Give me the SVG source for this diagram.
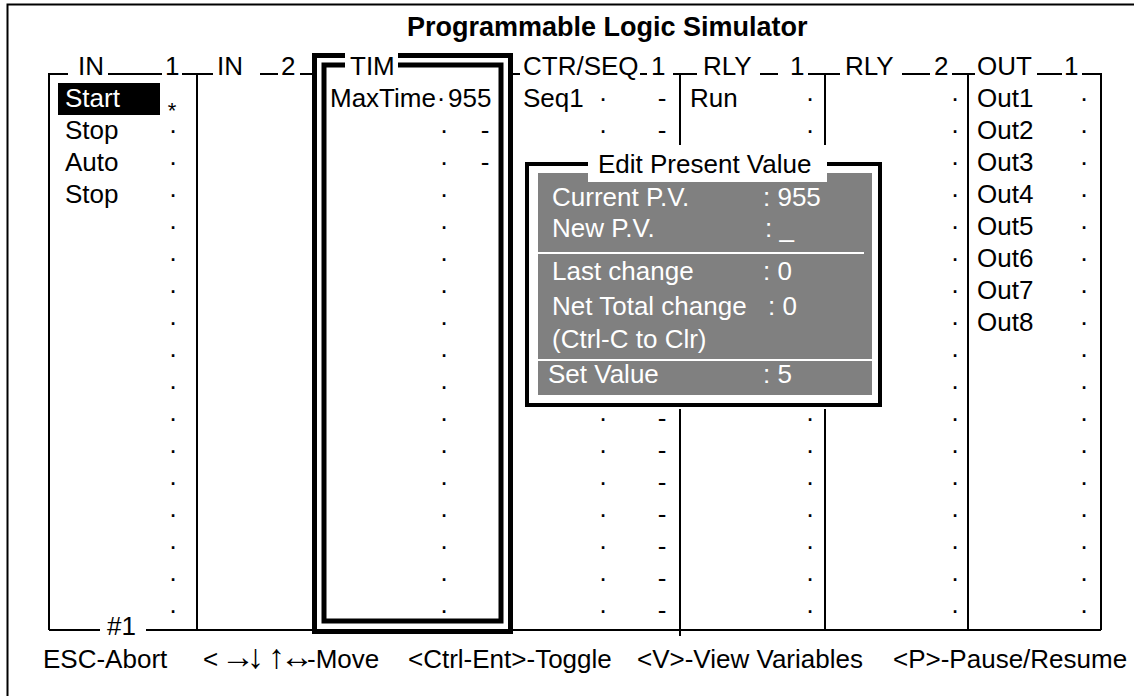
<svg xmlns="http://www.w3.org/2000/svg" width="1134" height="696" viewBox="0 0 1134 696">
  <style>
    .t{font-family:"Liberation Sans",Arial,sans-serif;font-size:26px;fill:#000}
    .b{font-weight:bold}
    .w{fill:#fff}
    .d{text-anchor:middle}
    .ar{font-size:34px}
    .ln{stroke:#000;stroke-width:2;fill:none}
    .thk{stroke:#000;stroke-width:5;fill:none}
    .sep{stroke:#fff;stroke-width:2}
  </style>

  <rect width="1134" height="696" fill="#fff"/>
  <!-- screen frame -->
  <rect id="frame" x="7.5" y="4.5" width="1140" height="700" class="ln"/>

  <g id="title">
    <text class="t b" x="407" y="36" style="font-size:27px">Programmable Logic Simulator</text>
  </g>

  <!-- grid lines: header rules, column separators, bottom rule -->
  <g id="connectors" class="ln">
    <path d="M49,630 V74 H68 M108,74 H162 M182,74 H213 M197,74 V630"/>
    <path d="M260,74 H278 M300,74 H313"/>
    <path d="M513,74 H520 M640,74 H647 M673,74 H697 M680,74 V145 M680,409 V636"/>
    <path d="M760,74 H778 M808,74 H840 M825,74 V145 M825,409 V630"/>
    <path d="M902,74 H930 M952,74 H975 M968,74 V630"/>
    <path d="M1037,74 H1062 M1082,74 H1101 V630"/>
    <path d="M49,630 H100 M146,630 H1101"/>
  </g>

  <g id="col-in1">
    <text class="t" x="78" y="75">IN</text>
    <text class="t" x="165" y="75">1</text>
    <rect x="58" y="83" width="102" height="32" fill="#000"/>
    <text class="t w" x="65" y="107">Start</text>
    <text class="t d" x="172" y="118" style="font-size:22px">*</text>
    <text class="t" x="65" y="139">Stop</text>
    <text class="t" x="65" y="171">Auto</text>
    <text class="t" x="65" y="203">Stop</text>
    <text class="t d" x="173 173 173 173 173 173 173 173 173 173 173 173 173 173 173 173" y="139 171 203 235 267 299 331 363 395 427 459 491 523 555 587 619">················</text>
    <text class="t" x="107" y="635">#1</text>
  </g>

  <g id="col-in2">
    <text class="t" x="217" y="75">IN</text>
    <text class="t" x="281" y="75">2</text>
  </g>

  <g id="col-tim">
    <rect x="314.5" y="55.5" width="196" height="576" class="thk"/>
    <rect x="324" y="65" width="177" height="556" class="thk"/>
    <rect x="345" y="50" width="53" height="20" fill="#fff"/>
    <text class="t" x="350" y="75">TIM</text>
    <text class="t" x="330" y="107">MaxTime</text>
    <text class="t d" x="441" y="107">·</text>
    <text class="t" x="448" y="107">955</text>
    <text class="t d" x="444 444 444 444 444 444 444 444 444 444 444 444 444 444 444 444" y="139 171 203 235 267 299 331 363 395 427 459 491 523 555 587 619">················</text>
    <text class="t d" x="485 485" y="139 171">--</text>
  </g>

  <g id="col-ctr">
    <text class="t" x="523" y="75">CTR/SEQ</text>
    <text class="t" x="651" y="75">1</text>
    <text class="t" x="523" y="107">Seq1</text>
    <text class="t d" x="603 603 603 603 603 603 603 603 603" y="107 139 427 459 491 523 555 587 619">·········</text>
    <text class="t d" x="662 662 662 662 662 662 662 662 662" y="107 139 427 459 491 523 555 587 619">---------</text>
  </g>

  <g id="col-rly1">
    <text class="t" x="703" y="75">RLY</text>
    <text class="t" x="790" y="75">1</text>
    <text class="t" x="690" y="107">Run</text>
    <text class="t d" x="810 810 810 810 810 810 810 810 810" y="107 139 427 459 491 523 555 587 619">·········</text>
  </g>

  <g id="col-rly2">
    <text class="t" x="845" y="75">RLY</text>
    <text class="t" x="934" y="75">2</text>
    <text class="t d" x="955 955 955 955 955 955 955 955 955 955 955 955 955 955 955 955 955" y="107 139 171 203 235 267 299 331 363 395 427 459 491 523 555 587 619">·················</text>
  </g>

  <g id="col-out">
    <text class="t" x="977" y="75">OUT</text>
    <text class="t" x="1064" y="75">1</text>
    <text class="t" x="977" y="107">Out1</text>
    <text class="t" x="977" y="139">Out2</text>
    <text class="t" x="977" y="171">Out3</text>
    <text class="t" x="977" y="203">Out4</text>
    <text class="t" x="977" y="235">Out5</text>
    <text class="t" x="977" y="267">Out6</text>
    <text class="t" x="977" y="299">Out7</text>
    <text class="t" x="977" y="331">Out8</text>
    <text class="t d" x="1084 1084 1084 1084 1084 1084 1084 1084 1084 1084 1084 1084 1084 1084 1084 1084 1084" y="107 139 171 203 235 267 299 331 363 395 427 459 491 523 555 587 619">·················</text>
  </g>

  <!-- overlay dialog -->
  <g id="popup">
    <rect x="518" y="145" width="368" height="264" fill="#fff"/>
    <rect x="527" y="164" width="353" height="241" fill="#fff" stroke="#000" stroke-width="4"/>
    <rect x="538" y="173" width="334" height="222" fill="#808080"/>
    <rect x="588" y="152" width="239" height="30" fill="#fff"/>
    <text class="t" x="598" y="173">Edit Present Value</text>
    <line x1="538" y1="253" x2="864" y2="253" class="sep"/>
    <line x1="538" y1="360" x2="872" y2="360" class="sep"/>
    <text class="t w" x="552" y="206">Current P.V.</text>
    <text class="t w" x="763" y="206">: 955</text>
    <text class="t w" x="552" y="237">New P.V.</text>
    <text class="t w" x="765" y="237">: _</text>
    <text class="t w" x="552" y="280">Last change</text>
    <text class="t w" x="763" y="280">: 0</text>
    <text class="t w" x="552" y="315">Net Total change</text>
    <text class="t w" x="768" y="315">: 0</text>
    <text class="t w" x="552" y="348">(Ctrl-C to Clr)</text>
    <text class="t w" x="548" y="383">Set Value</text>
    <text class="t w" x="763" y="383">: 5</text>
  </g>

  <g id="footer">
    <text class="t" x="43" y="668">ESC-Abort</text>
    <text class="t" y="668"><tspan x="203">&lt;</tspan><tspan x="221" class="ar">→</tspan><tspan x="247" class="ar">↓</tspan><tspan x="268" class="ar">↑</tspan><tspan x="280" class="ar">↔</tspan><tspan x="307">-Move</tspan></text>
    <text class="t" x="408" y="668">&lt;Ctrl-Ent&gt;-Toggle</text>
    <text class="t" x="637" y="668">&lt;V&gt;-View Variables</text>
    <text class="t" x="893" y="668">&lt;P&gt;-Pause/Resume</text>
  </g>
</svg>
